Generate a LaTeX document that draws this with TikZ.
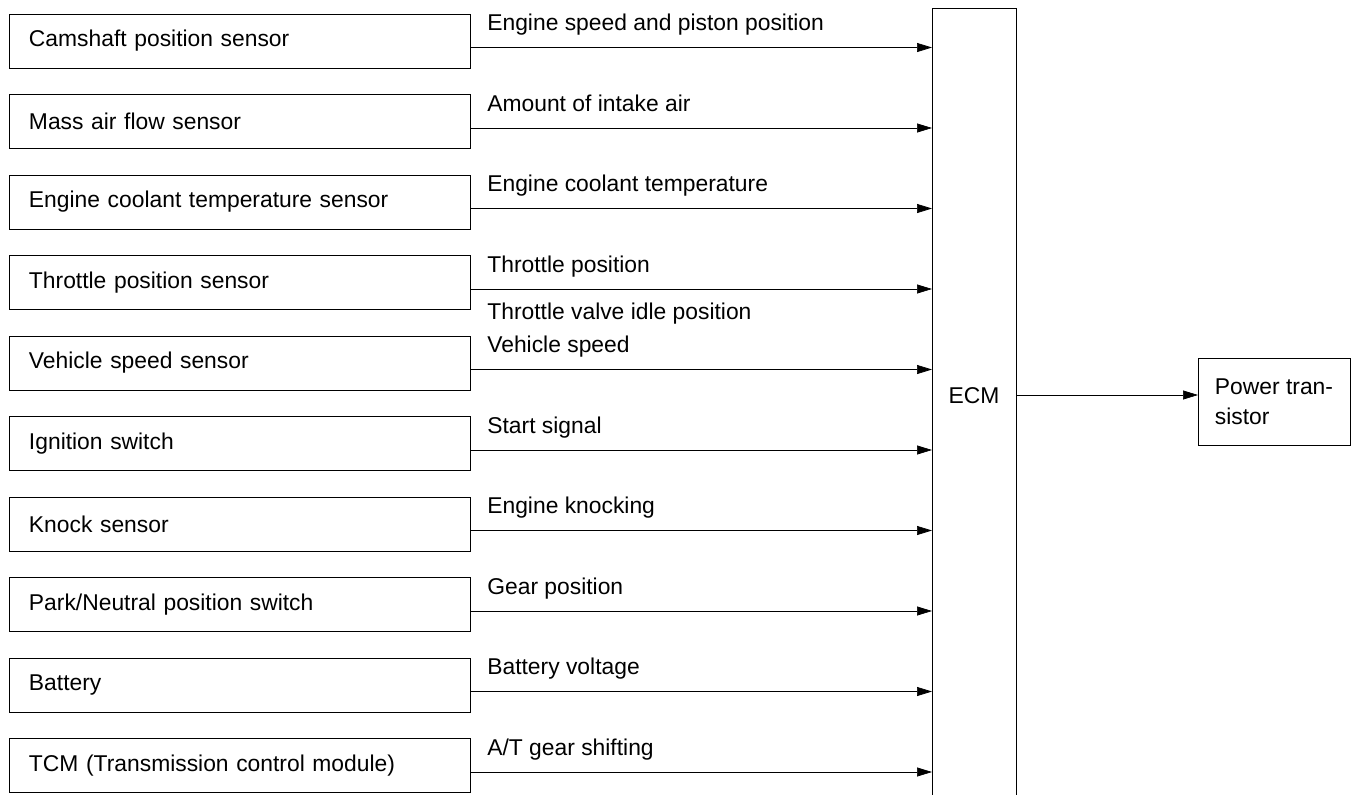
\documentclass[tikz,border=0pt]{standalone}
\usepackage{fontspec}
\setmainfont{Liberation Sans}
\usetikzlibrary{positioning, arrows.meta}
\tikzset{
  font=\fontsize{13}{17}\selectfont, % all text in the same size
  line width=0.8pt,
  sig/.style={-{Triangle[length=0.3cm, width=0.18cm]}}, % signal arrows into and out of the ECM
  sensor/.style={draw, rectangle, outer sep=0pt, minimum height=1.08cm, text width=8.42cm, inner xsep=0.4cm, align=left}, % input boxes
  node distance=0.53cm, % gap between two input boxes
  siglabel/.style={anchor=base west, inner sep=0pt, xshift=0.34cm}, % text over a signal line
}

\begin{document}
\begin{tikzpicture}
    \useasboundingbox (0,0) rectangle (27.12,-15.9);
    % inputs
    \node[sensor] (cam) at (4.79,-0.82) {Camshaft position sensor};
    \node[sensor, below=of cam] (maf)  {Mass air flow sensor};
    \node[sensor, below=of maf] (ect)  {Engine coolant temperature sensor};
    \node[sensor, below=of ect] (tps)  {Throttle position sensor};
    \node[sensor, below=of tps] (vss)  {Vehicle speed sensor};
    \node[sensor, below=of vss] (ign)  {Ignition switch};
    \node[sensor, below=of ign] (ks)   {Knock sensor};
    \node[sensor, below=of ks]  (pnp)  {Park/Neutral position switch};
    \node[sensor, below=of pnp] (batt) {Battery};
    \node[sensor, below=of batt] (tcm) {TCM (Transmission control module)};
    % control unit and output
    \node[draw, rectangle, outer sep=0pt, minimum width=1.68cm, minimum height=15.94cm,
          label={[yshift=0.21cm]center:ECM}] (ecm) at (19.48,-8.13) {};
    \node[draw, rectangle, outer sep=0pt, minimum width=3.04cm, minimum height=1.74cm,
          align=left] (pt) at (25.48,-8.03) {Power tran-\\sistor};
    \coordinate (out) at ([yshift=0.13cm]pt.west);
    \draw
      ([yshift=-0.13cm]cam.east) edge[sig] node[siglabel, pos=0, yshift=0.34cm] {Engine speed and piston position} ([yshift=-0.13cm]cam.east -| ecm.west)
      ([yshift=-0.13cm]maf.east) edge[sig] node[siglabel, pos=0, yshift=0.34cm] {Amount of intake air} ([yshift=-0.13cm]maf.east -| ecm.west)
      ([yshift=-0.13cm]ect.east) edge[sig] node[siglabel, pos=0, yshift=0.34cm] {Engine coolant temperature} ([yshift=-0.13cm]ect.east -| ecm.west)
      ([yshift=-0.13cm]tps.east) edge[sig] node[siglabel, pos=0, yshift=0.34cm] {Throttle position}
                                          node[siglabel, pos=0, yshift=-0.6cm] {Throttle valve idle position} ([yshift=-0.13cm]tps.east -| ecm.west)
      ([yshift=-0.13cm]vss.east) edge[sig] node[siglabel, pos=0, yshift=0.34cm] {Vehicle speed} ([yshift=-0.13cm]vss.east -| ecm.west)
      ([yshift=-0.13cm]ign.east) edge[sig] node[siglabel, pos=0, yshift=0.34cm] {Start signal} ([yshift=-0.13cm]ign.east -| ecm.west)
      ([yshift=-0.13cm]ks.east) edge[sig] node[siglabel, pos=0, yshift=0.34cm] {Engine knocking} ([yshift=-0.13cm]ks.east -| ecm.west)
      ([yshift=-0.13cm]pnp.east) edge[sig] node[siglabel, pos=0, yshift=0.34cm] {Gear position} ([yshift=-0.13cm]pnp.east -| ecm.west)
      ([yshift=-0.13cm]batt.east) edge[sig] node[siglabel, pos=0, yshift=0.34cm] {Battery voltage} ([yshift=-0.13cm]batt.east -| ecm.west)
      ([yshift=-0.13cm]tcm.east) edge[sig] node[siglabel, pos=0, yshift=0.34cm] {A/T gear shifting} ([yshift=-0.13cm]tcm.east -| ecm.west)
      (ecm.east |- out) edge[sig] (out);
\end{tikzpicture}
\end{document}
